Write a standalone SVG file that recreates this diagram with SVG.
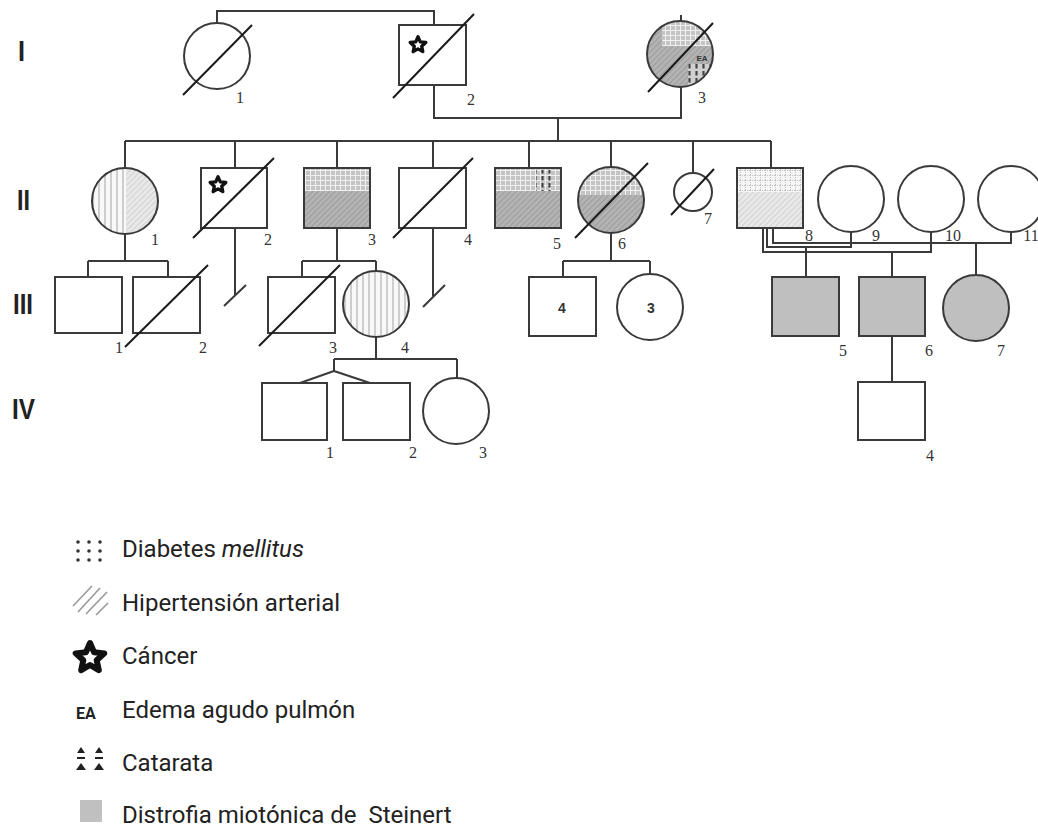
<svg xmlns="http://www.w3.org/2000/svg" width="1038" height="827" viewBox="0 0 1038 827">
<style>
.ln{fill:none;stroke:#3a3a3a;stroke-width:2}
.sh{stroke:#3a3a3a;stroke-width:2}
.wf{fill:#fff}
.sl{stroke:#1a1a1a;stroke-width:2;fill:none}
.lb{font-family:"Liberation Serif",serif;font-size:16px;fill:#333;text-anchor:middle}
.gen{font-family:"Liberation Sans",Arial,sans-serif;font-weight:bold;font-size:30px;fill:#222}
.lg{font-family:Roboto,"Liberation Sans",sans-serif;font-size:24px;fill:#222}
.in{font-family:"Liberation Sans",Arial,sans-serif;font-weight:bold;font-size:14px;fill:#333;text-anchor:middle}
.st{fill:#fff;stroke:#111;stroke-linejoin:round;stroke-width:6}
.gray{fill:#bfbfbf}
</style>
<defs>
<pattern id="grid" width="5" height="5" patternUnits="userSpaceOnUse"><rect width="5" height="5" fill="#c4c4c4"/><path d="M0 0.5H5M0.5 0V5" stroke="#f0f0f0" stroke-width="1"/></pattern>
<pattern id="gridw" width="5" height="5" patternUnits="userSpaceOnUse"><rect width="5" height="5" fill="#f6f6f6"/><path d="M0 0.5H5M0.5 0V5" stroke="#c2c2c2" stroke-width="1" stroke-dasharray="1 1"/></pattern>
<pattern id="hatch" width="4" height="4" patternUnits="userSpaceOnUse" patternTransform="rotate(45)"><rect width="4" height="4" fill="#b3b3b3"/><path d="M0 0V4" stroke="#8f8f8f" stroke-width="1.3"/></pattern>
<pattern id="hatchl" width="4" height="4" patternUnits="userSpaceOnUse" patternTransform="rotate(45)"><rect width="4" height="4" fill="#e8e8e8"/><path d="M0 0V4" stroke="#c4c4c4" stroke-width="1.2"/></pattern>
<pattern id="vstr" width="6" height="6" patternUnits="userSpaceOnUse"><rect width="6" height="6" fill="#f8f8f8"/><path d="M3 0V6" stroke="#b8b8b8" stroke-width="1.3"/></pattern>
<pattern id="cat" width="7" height="7" patternUnits="userSpaceOnUse"><path d="M3.5 1V5.5" stroke="#444" stroke-width="2.2"/></pattern>
<polygon id="star" class="st" points="0,-15 4.11,-5.66 14.27,-4.64 6.66,2.16 8.82,12.14 0,7 -8.82,12.14 -6.66,2.16 -14.27,-4.64 -4.11,-5.66"/>
<clipPath id="cI3"><circle cx="680" cy="54" r="33"/></clipPath>
<clipPath id="cII1"><circle cx="125" cy="201" r="33"/></clipPath>
<clipPath id="cII6"><circle cx="611" cy="200" r="33"/></clipPath>
</defs>

<g id="generations">
<text class="gen" x="18" y="61" textLength="7" lengthAdjust="spacingAndGlyphs">I</text>
<text class="gen" x="17" y="210" textLength="13" lengthAdjust="spacingAndGlyphs">II</text>
<text class="gen" x="13" y="314" textLength="20" lengthAdjust="spacingAndGlyphs">III</text>
<text class="gen" x="12" y="419" textLength="23" lengthAdjust="spacingAndGlyphs">IV</text>
</g>

<g id="connectors" class="ln">
<path d="M217,23 V11 H434 V25"/>
<path d="M681,15 V21"/>
<path d="M434,85 V118 H681 V87"/>
<path d="M558,118 V141"/>
<path d="M125,141 H771"/>
<path d="M125,141 V168 M235,141 V168 M337,141 V168 M433,141 V168 M529,141 V168 M611,141 V167 M693,141 V173 M771,141 V168"/>
<path d="M125,234 V261 M88,261 H168 M88,261 V277 M168,261 V277"/>
<path d="M235,228 V296"/>
<path d="M337,228 V261 M302,261 H376 M302,261 V277 M376,261 V271"/>
<path d="M433,228 V296"/>
<path d="M611,233 V261 M563,261 H650 M563,261 V277 M650,261 V274"/>
<path d="M773,228 V243 H1011 V232"/>
<path d="M767,228 V247 H851 V232"/>
<path d="M763,228 V252 H931 V232"/>
<path d="M806,247 V277 M892,252 V277 M976,243 V275"/>
<path d="M376,337 V359 M334,359 H457 M334,359 V371 L300,383 M334,371 L370,383 M457,359 V378"/>
<path d="M892,336 V382"/>
<path d="M224,306 L246,285 M423,307 L445,285"/>
</g>

<g id="I-1"><circle class="sh wf" cx="217" cy="56" r="33"/><path class="sl" d="M183,95 L252,25"/><text class="lb" x="240" y="103">1</text></g>
<g id="I-2"><rect class="sh wf" x="399" y="25" width="67" height="60"/><use href="#star" transform="translate(418,45) scale(0.55)"/><path class="sl" d="M393,98 L474,14"/><text class="lb" x="471" y="105">2</text></g>
<g id="I-3">
<g clip-path="url(#cI3)"><rect x="645" y="20" width="70" height="70" fill="url(#hatch)"/><rect x="662" y="20" width="52" height="26" fill="url(#grid)"/><rect x="688" y="64" width="26" height="26" fill="#d0d0d0"/><rect x="688" y="64" width="26" height="26" fill="url(#cat)"/></g>
<circle class="sh" cx="680" cy="54" r="33" fill="none"/>
<text x="702" y="61" font-family="Liberation Sans,Arial,sans-serif" font-size="8" font-weight="bold" fill="#333" text-anchor="middle">EA</text>
<path class="sl" d="M648,92 L713,23"/><text class="lb" x="702" y="103">3</text></g>

<g id="II-1"><g clip-path="url(#cII1)"><rect x="90" y="166" width="70" height="70" fill="url(#hatchl)"/><rect x="90" y="166" width="36" height="70" fill="url(#vstr)"/></g><circle class="sh" cx="125" cy="201" r="33" fill="none"/><text class="lb" x="155" y="245">1</text></g>
<g id="II-2"><rect class="sh wf" x="201" y="168" width="66" height="60"/><use href="#star" transform="translate(218,185) scale(0.55)"/><path class="sl" d="M193,238 L274,158"/><text class="lb" x="268" y="245">2</text></g>
<g id="II-3"><rect x="304" y="168" width="66" height="60" fill="url(#hatch)"/><rect x="304" y="168" width="66" height="23" fill="url(#grid)"/><rect class="sh" x="304" y="168" width="66" height="60" fill="none"/><text class="lb" x="372" y="245">3</text></g>
<g id="II-4"><rect class="sh wf" x="399" y="168" width="67" height="60"/><path class="sl" d="M393,238 L473,158"/><text class="lb" x="468" y="245">4</text></g>
<g id="II-5"><rect x="495" y="168" width="66" height="60" fill="url(#hatch)"/><rect x="495" y="168" width="66" height="23" fill="url(#grid)"/><rect x="536" y="170" width="18" height="21" fill="url(#cat)"/><rect class="sh" x="495" y="168" width="66" height="60" fill="none"/><text class="lb" x="557" y="249">5</text></g>
<g id="II-6"><g clip-path="url(#cII6)"><rect x="576" y="165" width="70" height="70" fill="url(#hatch)"/><rect x="576" y="165" width="70" height="30" fill="url(#grid)"/></g><circle class="sh" cx="611" cy="200" r="33" fill="none"/><path class="sl" d="M575,238 L648,163"/><text class="lb" x="622" y="249">6</text></g>
<g id="II-7"><circle class="sh wf" cx="693" cy="192" r="19"/><path class="sl" d="M671,215 L714,169"/><text class="lb" x="708" y="224">7</text></g>
<g id="II-8"><rect x="737" y="168" width="66" height="60" fill="url(#hatchl)"/><rect x="737" y="168" width="66" height="24" fill="url(#gridw)"/><rect class="sh" x="737" y="168" width="66" height="60" fill="none"/><text class="lb" x="809" y="241">8</text></g>
<g id="II-9"><circle class="sh wf" cx="851" cy="199" r="33"/><text class="lb" x="876" y="241">9</text></g>
<g id="II-10"><circle class="sh wf" cx="931" cy="199" r="33"/><text class="lb" x="953" y="241">10</text></g>
<g id="II-11"><circle class="sh wf" cx="1011" cy="199" r="33"/><text class="lb" x="1031" y="241">11</text></g>

<g id="III-1"><rect class="sh wf" x="55" y="277" width="67" height="56"/><text class="lb" x="119" y="353">1</text></g>
<g id="III-2"><rect class="sh wf" x="133" y="277" width="67" height="56"/><path class="sl" d="M125,347 L208,265"/><text class="lb" x="203" y="353">2</text></g>
<g id="III-3"><rect class="sh wf" x="268" y="277" width="67" height="56"/><path class="sl" d="M259,346 L340,265"/><text class="lb" x="333" y="353">3</text></g>
<g id="III-4"><circle class="sh" cx="376" cy="304" r="33" fill="url(#vstr)"/><text class="lb" x="405" y="353">4</text></g>
<g id="III-4b"><rect class="sh wf" x="529" y="277" width="67" height="59"/><text class="in" x="562" y="313">4</text></g>
<g id="III-3b"><circle class="sh wf" cx="650" cy="307" r="33"/><text class="in" x="651" y="313">3</text></g>
<g id="III-5"><rect class="sh gray" x="772" y="277" width="67" height="59"/><text class="lb" x="843" y="356">5</text></g>
<g id="III-6"><rect class="sh gray" x="859" y="277" width="66" height="59"/><text class="lb" x="929" y="356">6</text></g>
<g id="III-7"><circle class="sh gray" cx="976" cy="308" r="33"/><text class="lb" x="1001" y="356">7</text></g>

<g id="IV-1"><rect class="sh wf" x="262" y="383" width="65" height="57"/><text class="lb" x="330" y="458">1</text></g>
<g id="IV-2"><rect class="sh wf" x="343" y="383" width="67" height="57"/><text class="lb" x="413" y="458">2</text></g>
<g id="IV-3"><circle class="sh wf" cx="456" cy="411" r="33"/><text class="lb" x="483" y="458">3</text></g>
<g id="IV-4"><rect class="sh wf" x="858" y="382" width="67" height="58"/><text class="lb" x="930" y="461">4</text></g>

<g id="legend">
<g fill="#333"><circle cx="78" cy="542" r="1.8"/><circle cx="89" cy="542" r="1.8"/><circle cx="100" cy="542" r="1.8"/><circle cx="78" cy="551" r="1.8"/><circle cx="89" cy="551" r="1.8"/><circle cx="100" cy="551" r="1.8"/><circle cx="78" cy="560" r="1.8"/><circle cx="89" cy="560" r="1.8"/><circle cx="100" cy="560" r="1.8"/></g>
<text class="lg" x="122" y="557">Diabetes <tspan font-style="italic">mellitus</tspan></text>
<g stroke="#9a9a9a" stroke-width="1.6"><path d="M73,606 L92,586 M78,612 L100,588 M86,614 L107,592 M96,615 L108,603"/></g>
<text class="lg" x="122" y="611">Hipertensión arterial</text>
<use href="#star" transform="translate(90,658)"/>
<text class="lg" x="122" y="664">Cáncer</text>
<text x="76" y="719" font-family="Roboto,'Liberation Sans',sans-serif" font-size="16" font-weight="bold" fill="#222">EA</text>
<text class="lg" x="122" y="718">Edema agudo pulmón</text>
<g fill="#222"><path d="M77,753 L85,753 L81,747 Z M95,753 L103,753 L99,747 Z M76,770 L86,770 L81,763 Z M94,770 L104,770 L99,763 Z"/><path d="M77,758 H85 M95,758 H103" stroke="#222" stroke-width="2"/></g>
<text class="lg" x="122" y="771">Catarata</text>
<rect x="80" y="800" width="22" height="22" fill="#c0c0c0"/>
<text class="lg" x="122" y="823" xml:space="preserve">Distrofia miotónica de  Steinert</text>
</g>
</svg>
